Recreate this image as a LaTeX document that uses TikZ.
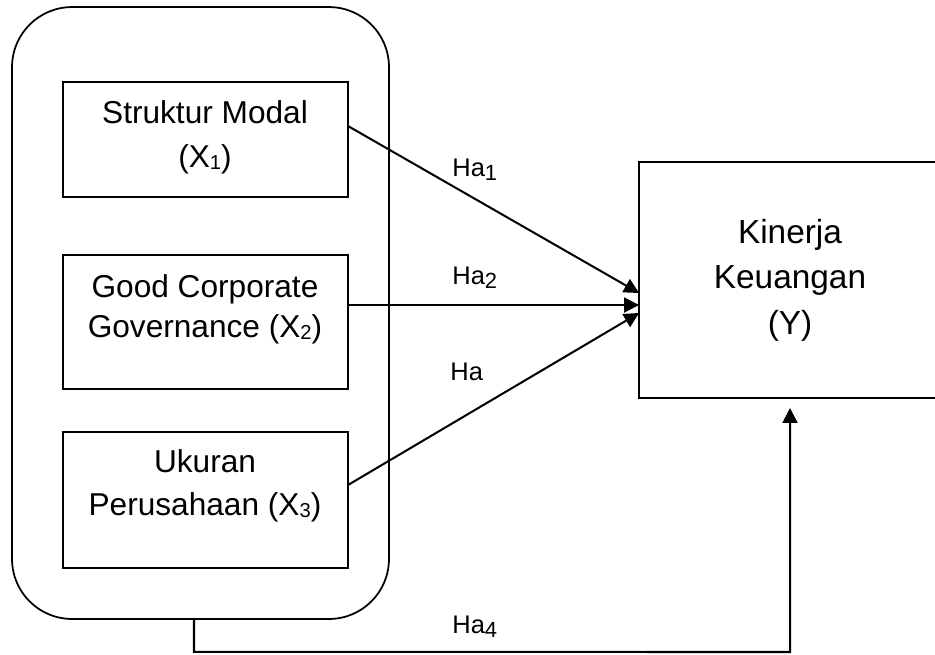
\documentclass[tikz,border=0pt]{standalone}
\usepackage{fontspec}
\setmainfont{Liberation Sans}
\usetikzlibrary{calc,arrows.meta}
\newcommand\boxsub[1]{\raisebox{-1.2pt}{\fontsize{11.5}{11.5}\selectfont #1}}
\newcommand\hasub[1]{\raisebox{-2.8pt}{\fontsize{12.5}{12.5}\selectfont #1}}
\begin{document}
\begin{tikzpicture}[x=0.02cm,y=-0.02cm,
  frame/.style={draw, line width=1.1pt, inner sep=0pt, outer sep=0pt},
  boxtxt/.style={anchor=base, inner sep=0pt, font=\fontsize{18}{20}\selectfont},
  ytxt/.style={anchor=base, inner sep=0pt, font=\fontsize{19}{21}\selectfont},
  hatxt/.style={anchor=base west, inner sep=0pt, font=\fontsize{14.5}{16}\selectfont},
  link/.style={line width=1.15pt, -{Triangle[length=8.5pt,width=8.5pt]}}]
\clip (0,0) rectangle (935,654);
\fill[white] (0,0) rectangle (935,654);
% outer rounded frame
\node[frame, line width=1pt, rounded corners=1.2cm, minimum width=7.54cm, minimum height=12.24cm] (outer) at (200.5,313) {};
% inner boxes
\node[frame, minimum width=5.7cm, minimum height=2.3cm] (b1) at (205.5,139.5) {};
\node[frame, minimum width=5.7cm, minimum height=2.68cm] (b2) at (205.5,322) {};
\node[frame, minimum width=5.7cm, minimum height=2.72cm] (b3) at (205.5,500) {};
\node[frame, minimum width=6.1cm, minimum height=4.72cm] (yb) at (791.5,280) {};
% texts
\node[boxtxt] (t1a) at (205,123) {Struktur Modal};
\node[boxtxt] (t1b) at (205,167) {(X\boxsub{1})};
\node[boxtxt] (t2a) at (205,297) {Good Corporate};
\node[boxtxt] (t2b) at (205,337) {Governance (X\boxsub{2})};
\node[boxtxt] (t3a) at (205,472) {Ukuran};
\node[boxtxt] (t3b) at (205,515) {Perusahaan (X\boxsub{3})};
\node[ytxt] (ty1) at (790,243) {Kinerja};
\node[ytxt] (ty2) at (790,288) {Keuangan};
\node[ytxt] (ty3) at (790,334) {(Y)};
% labels
\node[hatxt] (h1) at (452,176) {Ha\hasub{1}};
\node[hatxt] (h2) at (452,284) {Ha\hasub{2}};
\node[hatxt] (h3) at (450,380) {Ha};
\node[hatxt] (h4) at (452,633) {Ha\hasub{4}};
% connectors
\draw[link] ($(b1.east)+(0,-13.5)$) -- ($(yb.west)+(0,13)$);
\draw[link] ($(b2.east)+(0,-17)$) -- ($(yb.west)+(0,25)$);
\draw[link] ($(b3.east)+(0,-15)$) -- ($(yb.west)+(0,33)$);
\coordinate (c1) at ($(outer.south)+(-6.5,33)$);
\coordinate (c2) at ($(yb.south)+(-1.5,254)$);
\draw[link] ($(outer.south)+(-6.5,0)$) -- (c1) -- (c2) -- ($(yb.south)+(-1.5,10)$);
\end{tikzpicture}
\end{document}
